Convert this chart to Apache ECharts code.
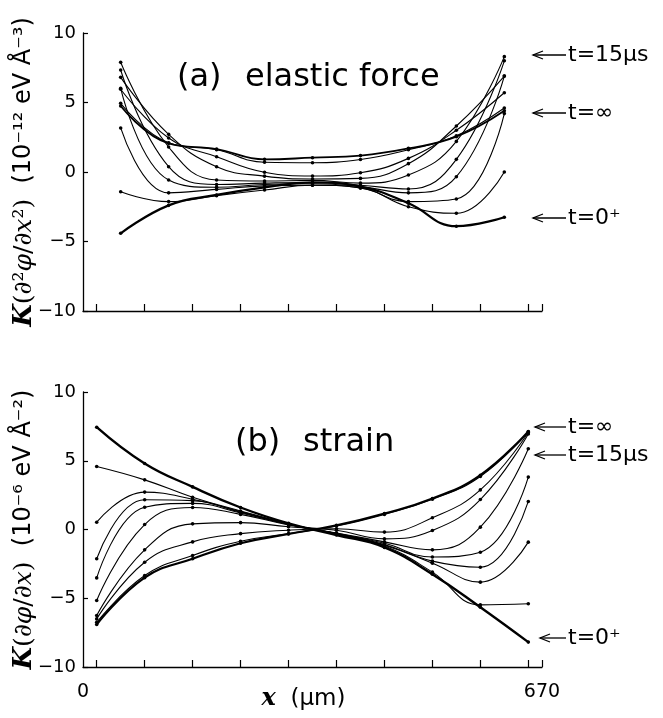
<!DOCTYPE html>
<html>
<head>
<meta charset="utf-8">
<script src="https://cdn.jsdelivr.net/npm/echarts@6.0.0/dist/echarts.min.js"></script>
<style>
  html, body { margin: 0; padding: 0; background: #fff; }
  #chart { width: 663px; height: 718px; }
</style>
</head>
<body>
<div id="chart"></div>
<script>
// Sample positions along the bar (µm): strain on grid nodes, force at cell midpoints
const xForce  = [55, 125, 195, 265, 335, 405, 475, 545, 615];
const xStrain = [20, 90, 160, 230, 300, 370, 440, 510, 580, 650];

// (a) elastic force K(d2phi/dx2), units 1e-12 eV/A^3, from t=0+ to t=inf
const force0   = [-4.41, -2.4, -1.65, -1.1, -0.75, -1.05, -2.25, -3.9, -3.25];
const force1   = [-1.42, -2.13, -1.7, -1.3, -0.95, -1.15, -2.5, -2.97, 0.0];
const force2   = [3.17, -1.5, -1.25, -1.0, -0.95, -1.15, -2.13, -1.94, 4.2];
const force3   = [6.02, -0.58, -1.1, -0.9, -0.85, -1.05, -1.5, -0.34, 6.9];
const force4   = [7.34, 0.38, -0.9, -0.8, -0.75, -0.95, -1.22, 0.91, 8.0];
const force5   = [7.89, 1.8, -0.58, -0.65, -0.6, -0.8, -0.22, 2.2, 8.3];
const force6   = [6.81, 2.71, 0.38, -0.3, -0.5, -0.46, 0.6, 3.31, 6.9];
const force7   = [5.95, 2.45, 1.1, -0.02, -0.29, -0.05, 0.98, 3.0, 5.7];
const force8   = [4.94, 2.1, 1.6, 0.7, 0.67, 0.9, 1.6, 2.6, 4.6];
const forceInf = [4.75, 2.06, 1.65, 0.91, 1.03, 1.18, 1.7, 2.54, 4.4];

// (b) strain K(dphi/dx), units 1e-6 eV/A^2
const strain0   = [7.44, 4.8, 3.1, 1.6, 0.45, -0.4, -1.3, -3.25, -5.65, -8.19];
const strain1   = [4.58, 3.61, 2.35, 1.35, 0.42, -0.35, -1.2, -3.1, -5.48, -5.4];
const strain2   = [0.53, 2.72, 2.2, 1.3, 0.4, -0.3, -1.15, -2.45, -3.83, -0.92];
const strain3   = [-2.13, 2.16, 2.1, 1.25, 0.38, -0.3, -1.1, -2.3, -2.74, 2.04];
const strain4   = [-3.52, 1.62, 1.9, 1.2, 0.36, -0.28, -1.0, -2.0, -1.65, 3.81];
const strain5   = [-5.16, 0.36, 1.6, 1.1, 0.33, -0.25, -0.9, -1.48, 0.17, 5.87];
const strain6   = [-6.25, -1.48, 0.41, 0.5, 0.2, -0.05, -0.68, -0.07, 2.18, 6.95];
const strain7   = [-6.5, -2.38, -0.9, -0.3, -0.05, 0.05, -0.19, 0.85, 2.88, 7.05];
const strain8   = [-6.75, -3.35, -1.89, -0.85, -0.3, 0.25, 1.1, 2.2, 3.85, 7.1];
const strainInf = [-6.91, -3.5, -2.13, -1.0, -0.33, 0.3, 1.16, 2.25, 3.95, 7.13];

// Axis ticks
const xTickValues = [20, 90, 160, 230, 300, 370, 440, 510, 580, 650, 670];
const xLabelValues = [0, 670];
const yTicks = { min: -10, max: 10, step: 5 };

const forceCurves = [force0, force1, force2, force3, force4, force5, force6, force7, force8, forceInf];
const strainCurves = [strain0, strain1, strain2, strain3, strain4, strain5, strain6, strain7, strain8, strainInf];
const thickForce = { 0: 2.2, 9: 1.8 };
const thickStrain = { 0: 2.4, 9: 2.2 };

const sans = 'DejaVu Sans';
const serif = 'DejaVu Serif';

function makeSeries(curves, xs, gridIdx, thick) {
  return curves.map((ys, i) => ({
    type: 'line',
    xAxisIndex: gridIdx,
    yAxisIndex: gridIdx,
    data: ys.map((y, k) => [xs[k], y]),
    smooth: 0.45,
    symbol: 'circle',
    symbolSize: 3.6,
    showSymbol: true,
    itemStyle: { color: '#000' },
    lineStyle: { color: '#000', width: thick[i] || 1.1 },
    z: thick[i] ? 3 : 2,
    silent: true
  }));
}

const minus = v => (v < 0 ? '\u2212' + Math.abs(v) : String(v));

function xAxisDef(gridIdx, withLabels) {
  return {
    type: 'value', gridIndex: gridIdx, min: 0, max: 670,
    axisLine: { show: true, onZero: false, lineStyle: { color: '#000', width: 1.3 } },
    axisTick: { show: true, inside: true, length: 7, customValues: xTickValues, lineStyle: { color: '#000', width: 1.2 } },
    axisLabel: withLabels
      ? { show: true, customValues: xLabelValues, margin: 16, color: '#000', fontFamily: sans, fontSize: 19 }
      : { show: false },
    splitLine: { show: false },
    name: withLabels ? '{mi|x}{s|  (\u03bcm)}' : '',
    nameLocation: 'middle',
    nameGap: 20,
    nameMoveOverlap: false,
    nameTextStyle: {
      color: '#000',
      verticalAlign: 'top',
      padding: [0, 18, 0, 0],
      rich: {
        mi: { fontFamily: serif, fontStyle: 'italic', fontWeight: 'bold', fontSize: 24, color: '#000' },
        s: { fontFamily: sans, fontSize: 23, color: '#000' }
      }
    }
  };
}

function yAxisDef(gridIdx, nameStr) {
  return {
    type: 'value', gridIndex: gridIdx, min: yTicks.min, max: yTicks.max, interval: yTicks.step,
    axisLine: { show: true, onZero: false, lineStyle: { color: '#000', width: 1.3 } },
    axisTick: { show: true, inside: true, length: 5, lineStyle: { color: '#000', width: 1.2 } },
    axisLabel: { color: '#000', fontFamily: sans, fontSize: 18, margin: 7, formatter: minus },
    splitLine: { show: false },
    name: nameStr,
    nameLocation: 'middle',
    nameRotate: 90,
    nameGap: 46,
    nameMoveOverlap: false,
    nameTextStyle: {
      color: '#000',
      rich: {
        K: { fontFamily: serif, fontStyle: 'italic', fontWeight: 'bold', fontSize: 26, color: '#000' },
        m: { fontFamily: serif, fontSize: 25, color: '#000' },
        mi: { fontFamily: serif, fontStyle: 'italic', fontSize: 25, color: '#000' },
        s: { fontFamily: sans, fontSize: 24, color: '#000' }
      }
    }
  };
}

// Arrow with a text tag, pointing left toward the curve ends
function tag(x0, y, label) {
  const x1 = 566;
  return [
    { type: 'line', shape: { x1: x0, y1: y, x2: x1, y2: y }, style: { stroke: '#000', lineWidth: 1.3 } },
    { type: 'polyline', shape: { points: [[x0 + 10, y - 4], [x0, y], [x0 + 10, y + 4]] }, style: { stroke: '#000', lineWidth: 1.3, fill: null } },
    { type: 'text', x: x1 + 2, y: y, style: { text: label, font: '22px "DejaVu Sans"', fill: '#000', verticalAlign: 'middle', align: 'left' } }
  ];
}

const chart = echarts.init(document.getElementById('chart'), null, { renderer: 'canvas' });

chart.setOption({
  backgroundColor: '#fff',
  animation: false,
  grid: [
    { left: 83, right: 121, top: 33, bottom: 407, containLabel: false, outerBoundsMode: 'none' },
    { left: 83, right: 121, top: 392, bottom: 51, containLabel: false, outerBoundsMode: 'none' }
  ],
  xAxis: [xAxisDef(0, false), xAxisDef(1, true)],
  yAxis: [
    yAxisDef(0, '{K|K}{m|(\u2202\u00b2}{mi|\u03c6}{m|/\u2202}{mi|x}{m|\u00b2)}{s|  (10\u207b\u00b9\u00b2 eV \u00c5\u207b\u00b3)}'),
    yAxisDef(1, '{K|K}{m|(\u2202}{mi|\u03c6}{m|/\u2202}{mi|x}{m|)}{s|  (10\u207b\u2076 eV \u00c5\u207b\u00b2)}')
  ],
  series: [
    ...makeSeries(forceCurves, xForce, 0, thickForce),
    ...makeSeries(strainCurves, xStrain, 1, thickStrain)
  ],
  graphic: [
    { type: 'text', x: 177, y: 78, style: { text: '(a)', font: '32px "DejaVu Sans"', fill: '#000', verticalAlign: 'middle' } },
    { type: 'text', x: 245, y: 78, style: { text: 'elastic force', font: '32px "DejaVu Sans"', fill: '#000', verticalAlign: 'middle' } },
    { type: 'text', x: 235, y: 443, style: { text: '(b)', font: '32px "DejaVu Sans"', fill: '#000', verticalAlign: 'middle' } },
    { type: 'text', x: 303, y: 443, style: { text: 'strain', font: '32px "DejaVu Sans"', fill: '#000', verticalAlign: 'middle' } },
    ...tag(533, 55, 't=15\u03bcs'),
    ...tag(533, 113, 't=\u221e'),
    ...tag(533, 218, 't=0\u207a'),
    ...tag(535, 427, 't=\u221e'),
    ...tag(535, 455, 't=15\u03bcs'),
    ...tag(540, 638, 't=0\u207a')
  ]
});
</script>
</body>
</html>
